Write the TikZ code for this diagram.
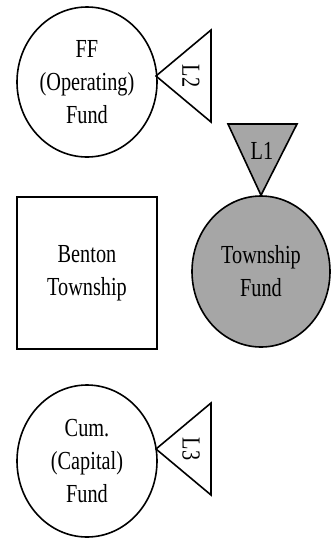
\documentclass[tikz,border=0pt]{standalone}
\usepackage{fontspec}
\setmainfont{Liberation Serif}[FakeStretch=0.78]
\usetikzlibrary{shapes.geometric}
\definecolor{fundgray}{RGB}{166,166,166}
\begin{document}
\begin{tikzpicture}[x=1pt,y=-1pt,line width=1.6pt,line join=miter,
  txt/.style={font=\fontsize{26}{33}\selectfont,align=center,inner sep=0pt},
  fund/.style={ellipse,draw,txt,minimum width=140pt,minimum height=150pt},
  entity/.style={rectangle,draw,txt,minimum width=140pt,minimum height=152pt},
  tri/.style={draw},
  lbl/.style={txt}]
\useasboundingbox (0,0) rectangle (330,539);
% funds and entity
\node[fund] (ff) at (87,82) {FF\\(Operating)\\Fund};
\node[entity] (bt) at (87,273) {Benton\\Township};
\node[fund,fill=fundgray,minimum width=138pt,minimum height=151pt] (tf) at (261,271.5) {Township\\Fund};
\node[fund,minimum height=152pt] (cum) at (87,461) {Cum.\\(Capital)\\Fund};
% triangles
\coordinate (a2) at (156,76);
\coordinate (a3) at (156,449);
\draw[tri] (a2) -- (211,30) -- (211,122) -- cycle;
\node[lbl,rotate=-90] (l2) at (191,76) {L2};
\draw[tri,fill=fundgray] (228,124) -- (297,124) -- (tf.north) -- cycle;
\node[lbl] (l1) at (262,151) {L1};
\draw[tri] (a3) -- (211,403) -- (211,495) -- cycle;
\node[lbl,rotate=-90] (l3) at (191,449) {L3};
\end{tikzpicture}
\end{document}
